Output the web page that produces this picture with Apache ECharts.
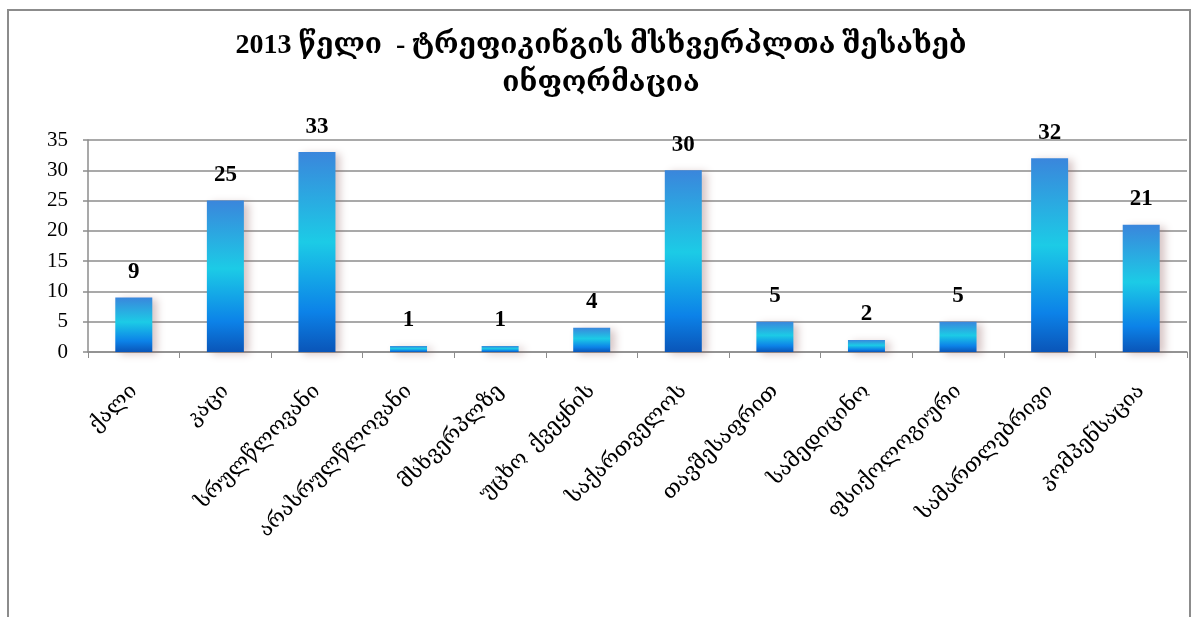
<!DOCTYPE html>
<html><head><meta charset="utf-8">
<script src="https://cdn.jsdelivr.net/npm/echarts@6/dist/echarts.min.js"></script>
<style>html,body{margin:0;padding:0;background:#fff}#c{width:1202px;height:617px}</style>
</head><body><div id="c"></div>
<script>
const titleText = '2013 წელი  - ტრეფიკინგის მსხვერპლთა შესახებ\nინფორმაცია';
const categories = ['ქალი','კაცი','სრულწლოვანი','არასრულწლოვანი','მსხვერპლზე','უცხო  ქვეყნის','საქართველოს','თავშესაფრით','სამედიცინო','ფსიქოლოგიური','სამართლებრივი','კომპენსაცია'];
const values = [9,25,33,1,1,4,30,5,2,5,32,21];
const yTicks = {min:0,max:35,interval:5};
const FONT = '"Liberation Serif","DejaVu Serif",serif';
const chart = echarts.init(document.getElementById('c'));
chart.setOption({
  backgroundColor:'#fff',
  animation:false,
  graphic:[{type:'rect',shape:{x:8,y:10,width:1182,height:700},style:{fill:'none',stroke:'#8c8c8c',lineWidth:2}}],
  title:{text:titleText,left:'center',top:22,textStyle:{fontFamily:FONT,fontSize:28,fontWeight:'bold',color:'#000',lineHeight:38}},
  grid:{left:88,right:15,top:140,bottom:265},
  xAxis:{type:'category',data:categories,
    axisLine:{lineStyle:{color:'#8c8c8c',width:1.5}},
    axisTick:{show:true,lineStyle:{color:'#8c8c8c'},length:6},
    axisLabel:{rotate:45,interval:0,color:'#000',fontFamily:FONT,fontSize:21,margin:36}},
  yAxis:{type:'value',min:yTicks.min,max:yTicks.max,interval:yTicks.interval,
    axisLine:{show:true,lineStyle:{color:'#8c8c8c',width:1.5}},
    axisTick:{show:true,length:5,lineStyle:{color:'#8c8c8c',width:1.5}},
    splitLine:{lineStyle:{color:'#8c8c8c',width:1.5}},
    axisLabel:{color:'#000',fontFamily:FONT,fontSize:21,margin:20}},
  series:[{type:'bar',data:values,barWidth:37,
    itemStyle:{
      color:new echarts.graphic.LinearGradient(0,0,0,1,[
        {offset:0,color:'#3a86dc'},{offset:0.45,color:'#1ccbe6'},{offset:0.8,color:'#0c82e8'},{offset:1,color:'#0a55b8'}]),
      shadowColor:'rgba(140,90,90,0.35)',shadowBlur:8,shadowOffsetX:5,shadowOffsetY:2},
    label:{show:true,position:'top',distance:14,color:'#000',fontFamily:FONT,fontSize:23,fontWeight:'bold'}}]
});
</script></body></html>
